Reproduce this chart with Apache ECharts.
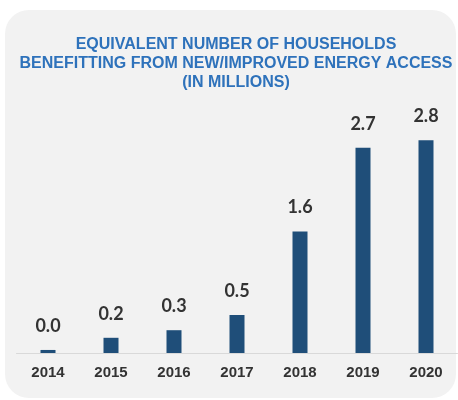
<!DOCTYPE html>
<html>
<head>
<meta charset="utf-8">
<script src="https://cdn.jsdelivr.net/npm/echarts@6/dist/echarts.min.js"></script>
<style>
  html, body { margin: 0; padding: 0; background: #fff; }
  #chart { width: 458px; height: 400px; }
</style>
</head>
<body>
<div id="chart"></div>
<script>
// data
var years = ["2014", "2015", "2016", "2017", "2018", "2019", "2020"];
var households = [0.04, 0.2, 0.3, 0.5, 1.6, 2.7, 2.8];
var titleLines = [
  "EQUIVALENT NUMBER OF HOUSEHOLDS",
  "BENEFITTING FROM NEW/IMPROVED ENERGY ACCESS",
  "(IN MILLIONS)"
];

var chart = echarts.init(document.getElementById("chart"));

var option = {
  backgroundColor: "#ffffff",
  animation: false,
  // rounded grey panel behind everything
  graphic: [
    {
      type: "rect",
      z: -10,
      shape: { x: 5, y: 10, width: 451, height: 388, r: 24 },
      style: { fill: "#f2f2f2" }
    }
  ],
  title: {
    text: titleLines.join("\n"),
    left: 236,
    top: 35,
    padding: 0,
    textAlign: "center",
    textStyle: {
      fontFamily: "Liberation Sans, Arial, sans-serif",
      fontSize: 16,
      fontWeight: "bold",
      color: "#2e72bb",
      lineHeight: 19
    }
  },
  grid: {
    left: 16.5,
    right: 0.5,
    top: 125,
    bottom: 47
  },
  xAxis: {
    type: "category",
    data: years,
    axisTick: { show: false },
    axisLine: { lineStyle: { color: "#d9d9d9", width: 1 } },
    axisLabel: {
      margin: 12,
      fontFamily: "Liberation Sans, Arial, sans-serif",
      fontSize: 15,
      fontWeight: "bold",
      color: "#333333"
    }
  },
  yAxis: {
    type: "value",
    min: 0,
    max: 3,
    show: false,
    splitLine: { show: false }
  },
  series: [
    {
      type: "bar",
      data: households,
      barWidth: 15,
      itemStyle: { color: "#1f4e79" },
      label: {
        show: true,
        position: "top",
        distance: 15,
        fontFamily: "Lato, sans-serif",
        fontSize: 18,
        fontWeight: "bold",
        color: "#333333",
        formatter: function (p) {
          return p.value.toFixed(1);
        }
      }
    }
  ]
};

chart.setOption(option);
</script>
</body>
</html>
